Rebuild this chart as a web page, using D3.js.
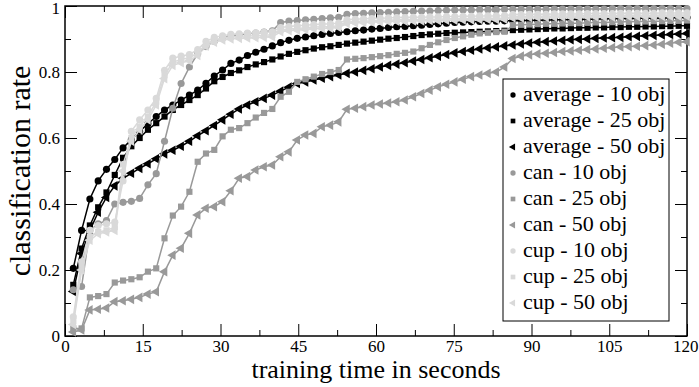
<!DOCTYPE html>
<html>
<head>
<meta charset="utf-8">
<script src="https://cdn.jsdelivr.net/npm/d3@7"></script>
<style>
  body { margin: 0; background: #fff; }
  svg { display: block; font-family: "Liberation Serif", "Times New Roman", serif; }
</style>
</head>
<body>
<div id="chart"></div>
<script>
// sample times (seconds)
const times = [1.6, 3.2, 4.8, 6.4, 8.0, 9.6, 11.2, 12.8, 14.4, 16.0,
  17.6, 19.2, 20.8, 22.4, 24.0, 25.6, 27.2, 28.8, 30.4, 32.0,
  33.6, 35.2, 36.8, 38.4, 40.0, 41.6, 43.2, 44.8, 46.4, 48.0,
  49.6, 51.2, 52.8, 54.4, 56.0, 57.6, 59.2, 60.8, 62.4, 64.0,
  65.6, 67.2, 68.8, 70.4, 72.0, 73.6, 75.2, 76.8, 78.4, 80.0,
  81.6, 83.2, 84.8, 86.4, 88.0, 89.6, 91.2, 92.8, 94.4, 96.0,
  97.6, 99.2, 100.8, 102.4, 104.0, 105.6, 107.2, 108.8, 110.4, 112.0,
  113.6, 115.2, 116.8, 118.4, 120.0];

const avg10 = [0.205, 0.32, 0.415, 0.47, 0.505, 0.535, 0.57, 0.595, 0.62, 0.643,
  0.665, 0.685, 0.70, 0.715, 0.73, 0.745, 0.766, 0.788, 0.806, 0.826,
  0.836, 0.85, 0.86, 0.869, 0.879, 0.889, 0.896, 0.902, 0.906, 0.91,
  0.914, 0.917, 0.92, 0.922, 0.925, 0.927, 0.93, 0.932, 0.935, 0.937,
  0.938, 0.94, 0.942, 0.944, 0.946, 0.948, 0.95, 0.951, 0.952, 0.953,
  0.954, 0.954, 0.955, 0.955, 0.956, 0.956, 0.957, 0.957, 0.958, 0.958,
  0.959, 0.959, 0.96, 0.96, 0.961, 0.961, 0.962, 0.962, 0.963, 0.963,
  0.963, 0.964, 0.964, 0.965, 0.965];

const avg25 = [0.155, 0.265, 0.335, 0.39, 0.435, 0.488, 0.54, 0.575, 0.60, 0.625,
  0.645, 0.665, 0.685, 0.70, 0.715, 0.73, 0.75, 0.772, 0.785, 0.797,
  0.805, 0.815, 0.823, 0.83, 0.838, 0.847, 0.855, 0.861, 0.866, 0.871,
  0.875, 0.878, 0.882, 0.886, 0.889, 0.892, 0.895, 0.898, 0.901, 0.903,
  0.906, 0.909, 0.912, 0.914, 0.916, 0.918, 0.919, 0.92, 0.921, 0.922,
  0.923, 0.924, 0.925, 0.927, 0.928, 0.929, 0.93, 0.931, 0.932, 0.932,
  0.933, 0.934, 0.934, 0.935, 0.935, 0.936, 0.936, 0.937, 0.937, 0.938,
  0.938, 0.939, 0.939, 0.94, 0.94];

const avg50 = [0.135, 0.25, 0.32, 0.375, 0.42, 0.455, 0.478, 0.493, 0.508, 0.522,
  0.537, 0.552, 0.563, 0.575, 0.59, 0.607, 0.622, 0.638, 0.655, 0.672,
  0.688, 0.70, 0.71, 0.72, 0.73, 0.742, 0.754, 0.765, 0.77, 0.776,
  0.781, 0.786, 0.791, 0.796, 0.80, 0.805, 0.81, 0.815, 0.82, 0.824,
  0.828, 0.833, 0.838, 0.843, 0.848, 0.853, 0.858, 0.862, 0.866, 0.87,
  0.873, 0.876, 0.879, 0.882, 0.885, 0.888, 0.89, 0.892, 0.894, 0.896,
  0.898, 0.899, 0.90, 0.902, 0.903, 0.904, 0.905, 0.907, 0.908, 0.91,
  0.911, 0.912, 0.914, 0.915, 0.917];

const can10 = [0.14, 0.15, 0.32, 0.34, 0.35, 0.40, 0.405, 0.408, 0.417, 0.458,
  0.492, 0.59, 0.69, 0.765, 0.815, 0.855, 0.877, 0.893, 0.903, 0.91,
  0.913, 0.916, 0.918, 0.921, 0.925, 0.95, 0.954, 0.956, 0.958, 0.96,
  0.962, 0.964, 0.966, 0.975, 0.977, 0.978, 0.979, 0.98, 0.981, 0.982,
  0.983, 0.984, 0.985, 0.985, 0.986, 0.987, 0.988, 0.988, 0.988, 0.989,
  0.989, 0.989, 0.99, 0.99, 0.99, 0.99, 0.99, 0.99, 0.991, 0.991,
  0.991, 0.991, 0.991, 0.991, 0.991, 0.992, 0.992, 0.992, 0.992, 0.992,
  0.992, 0.992, 0.992, 0.992, 0.992];

const can25 = [0.023, 0.023, 0.117, 0.121, 0.127, 0.162, 0.168, 0.172, 0.178, 0.195,
  0.205, 0.296, 0.365, 0.392, 0.437, 0.528, 0.553, 0.564, 0.605, 0.625,
  0.63, 0.645, 0.662, 0.676, 0.688, 0.725, 0.74, 0.77, 0.778, 0.786,
  0.794, 0.80, 0.806, 0.838, 0.84, 0.842, 0.845, 0.848, 0.851, 0.855,
  0.858, 0.862, 0.872, 0.882, 0.89, 0.897, 0.903, 0.908, 0.913, 0.917,
  0.919, 0.921, 0.922, 0.942, 0.943, 0.944, 0.945, 0.946, 0.946, 0.947,
  0.948, 0.948, 0.949, 0.95, 0.95, 0.951, 0.952, 0.952, 0.953, 0.953,
  0.954, 0.954, 0.955, 0.955, 0.956];

const can50 = [0.012, 0.018, 0.079, 0.081, 0.085, 0.104, 0.107, 0.111, 0.117, 0.127,
  0.134, 0.195, 0.245, 0.266, 0.311, 0.367, 0.387, 0.392, 0.407, 0.44,
  0.478, 0.483, 0.503, 0.513, 0.518, 0.543, 0.558, 0.594, 0.609, 0.614,
  0.634, 0.639, 0.649, 0.687, 0.69, 0.695, 0.70, 0.703, 0.706, 0.71,
  0.715, 0.725, 0.735, 0.745, 0.755, 0.763, 0.77, 0.778, 0.786, 0.791,
  0.796, 0.80, 0.815, 0.841, 0.848, 0.852, 0.855, 0.857, 0.859, 0.862,
  0.864, 0.866, 0.868, 0.87, 0.872, 0.874, 0.876, 0.877, 0.878, 0.88,
  0.882, 0.884, 0.887, 0.89, 0.892];

const cup10 = [0.058, 0.225, 0.32, 0.335, 0.34, 0.345, 0.47, 0.62, 0.655, 0.685,
  0.72, 0.805, 0.842, 0.848, 0.853, 0.868, 0.893, 0.905, 0.91, 0.914,
  0.916, 0.918, 0.919, 0.92, 0.922, 0.935, 0.938, 0.94, 0.942, 0.944,
  0.945, 0.946, 0.948, 0.958, 0.96, 0.961, 0.962, 0.963, 0.964, 0.965,
  0.965, 0.966, 0.966, 0.967, 0.967, 0.968, 0.968, 0.969, 0.969, 0.97,
  0.97, 0.97, 0.971, 0.974, 0.974, 0.975, 0.975, 0.975, 0.976, 0.976,
  0.976, 0.976, 0.977, 0.977, 0.977, 0.977, 0.978, 0.978, 0.978, 0.978,
  0.978, 0.979, 0.979, 0.979, 0.979];

const cup25 = [0.045, 0.21, 0.30, 0.315, 0.32, 0.33, 0.52, 0.60, 0.635, 0.665,
  0.71, 0.79, 0.83, 0.838, 0.843, 0.858, 0.885, 0.897, 0.903, 0.906,
  0.908, 0.909, 0.91, 0.911, 0.913, 0.927, 0.93, 0.932, 0.934, 0.936,
  0.937, 0.938, 0.94, 0.951, 0.953, 0.954, 0.955, 0.956, 0.957, 0.958,
  0.958, 0.959, 0.959, 0.96, 0.96, 0.961, 0.961, 0.962, 0.962, 0.963,
  0.963, 0.963, 0.964, 0.968, 0.968, 0.969, 0.969, 0.969, 0.97, 0.97,
  0.97, 0.97, 0.971, 0.971, 0.971, 0.971, 0.972, 0.972, 0.972, 0.972,
  0.972, 0.973, 0.973, 0.973, 0.973];

const cup50 = [0.035, 0.20, 0.29, 0.31, 0.315, 0.32, 0.50, 0.59, 0.625, 0.655,
  0.70, 0.78, 0.82, 0.828, 0.834, 0.85, 0.878, 0.89, 0.897, 0.90,
  0.902, 0.903, 0.904, 0.905, 0.907, 0.922, 0.925, 0.927, 0.929, 0.931,
  0.932, 0.933, 0.935, 0.947, 0.949, 0.95, 0.951, 0.952, 0.953, 0.954,
  0.954, 0.955, 0.955, 0.956, 0.956, 0.957, 0.957, 0.958, 0.958, 0.959,
  0.959, 0.959, 0.96, 0.964, 0.964, 0.965, 0.965, 0.965, 0.966, 0.966,
  0.966, 0.966, 0.967, 0.967, 0.967, 0.967, 0.968, 0.968, 0.968, 0.968,
  0.968, 0.969, 0.969, 0.969, 0.969];

const seriesNames = ['average - 10 obj', 'average - 25 obj', 'average - 50 obj',
  'can - 10 obj', 'can - 25 obj', 'can - 50 obj',
  'cup - 10 obj', 'cup - 25 obj', 'cup - 50 obj'];
const seriesValues = [avg10, avg25, avg50, can10, can25, can50, cup10, cup25, cup50];
const seriesColors = ['#000000', '#000000', '#000000', '#999999', '#999999', '#999999', '#d9d9d9', '#d9d9d9', '#d9d9d9'];
const seriesShapes = ['circle', 'square', 'triangle', 'circle', 'square', 'triangle', 'circle', 'square', 'triangle'];

const xTicks = [0, 15, 30, 45, 60, 75, 90, 105, 120];
const yTicks = [0, 0.2, 0.4, 0.6, 0.8, 1];

const width = 699, height = 387;
const margin = { L: 65, R: 12, T: 6, B: 51 };

const svg = d3.select('#chart').append('svg').attr('width', width).attr('height', height);

const x = d3.scaleLinear().domain([0, 120]).range([margin.L, width - margin.R]);
const y = d3.scaleLinear().domain([0, 1]).range([height - margin.B, margin.T]);

const minorX = d3.range(7.5, 120, 15);
const minorY = d3.range(0.1, 1, 0.2);

function styleAxis(g) {
  g.select('.domain').remove();
  g.selectAll('.tick line').attr('stroke', '#000').attr('stroke-width', 1);
  g.selectAll('text').attr('fill', '#000').style('font-size', '17px')
    .style('font-family', '"Liberation Serif", "Times New Roman", serif');
}

// bottom
const bottomAxis = svg.append('g').attr('transform', `translate(0,${y(0)})`)
  .call(d3.axisBottom(x).tickValues(xTicks).tickSize(-12).tickPadding(4).tickFormat(d3.format('d')))
  .call(styleAxis);
// last label would be clipped by the window edge: keep it inside
bottomAxis.selectAll('.tick text').filter(d => d === 120)
  .attr('text-anchor', 'end').attr('x', width - 1 - x(120));
svg.append('g').attr('transform', `translate(0,${y(0)})`)
  .call(d3.axisBottom(x).tickValues(minorX).tickSize(-6).tickFormat(''))
  .call(styleAxis);
// top
svg.append('g').attr('transform', `translate(0,${y(1)})`)
  .call(d3.axisTop(x).tickValues(xTicks).tickSize(-12).tickFormat(''))
  .call(styleAxis);
svg.append('g').attr('transform', `translate(0,${y(1)})`)
  .call(d3.axisTop(x).tickValues(minorX).tickSize(-6).tickFormat(''))
  .call(styleAxis);
// left
const leftAxis = svg.append('g').attr('transform', `translate(${x(0)},0)`)
  .call(d3.axisLeft(y).tickValues(yTicks).tickSize(-12).tickPadding(5).tickFormat(d3.format('')))
  .call(styleAxis);
leftAxis.selectAll('.tick text').filter(d => d === 1).attr('dy', '0.72em').attr('y', -5);
svg.append('g').attr('transform', `translate(${x(0)},0)`)
  .call(d3.axisLeft(y).tickValues(minorY).tickSize(-6).tickFormat(''))
  .call(styleAxis);
// right
svg.append('g').attr('transform', `translate(${x(120)},0)`)
  .call(d3.axisRight(y).tickValues(yTicks).tickSize(-12).tickFormat(''))
  .call(styleAxis);
svg.append('g').attr('transform', `translate(${x(120)},0)`)
  .call(d3.axisRight(y).tickValues(minorY).tickSize(-6).tickFormat(''))
  .call(styleAxis);

// frame
svg.append('rect')
  .attr('x', x(0)).attr('y', y(1))
  .attr('width', x(120) - x(0)).attr('height', y(0) - y(1))
  .attr('fill', 'none').attr('stroke', '#000').attr('stroke-width', 1.5);

const symbolFor = {
  circle: d3.symbol().type(d3.symbolCircle).size(40),
  square: d3.symbol().type(d3.symbolSquare).size(38),
  triangle: d3.symbol().type(d3.symbolTriangle).size(40)
};
const smallSymbolFor = {
  circle: d3.symbol().type(d3.symbolCircle).size(22),
  square: d3.symbol().type(d3.symbolSquare).size(22),
  triangle: d3.symbol().type(d3.symbolTriangle).size(22)
};

const line = d3.line().x((d, i) => x(times[i])).y(d => y(d));

seriesValues.forEach((vals, s) => {
  const g = svg.append('g');
  g.append('path').datum(vals)
    .attr('d', line)
    .attr('fill', 'none')
    .attr('stroke', seriesColors[s])
    .attr('stroke-width', 1.5);
  g.selectAll('path.mark').data(vals).enter().append('path')
    .attr('class', 'mark')
    .attr('d', symbolFor[seriesShapes[s]])
    .attr('transform', (d, i) => `translate(${x(times[i])},${y(d)})` + (seriesShapes[s] === 'triangle' ? ' rotate(-90)' : ''))
    .attr('fill', seriesColors[s]);
});

// legend
const lg = svg.append('g').attr('transform', 'translate(503,79)');
lg.append('rect').attr('width', 166).attr('height', 242)
  .attr('fill', '#fff').attr('stroke', '#000').attr('stroke-width', 1);
seriesNames.forEach((name, s) => {
  const yy = 16 + s * 26;
  lg.append('path')
    .attr('d', smallSymbolFor[seriesShapes[s]])
    .attr('transform', `translate(10,${yy})` + (seriesShapes[s] === 'triangle' ? ' rotate(-90)' : ''))
    .attr('fill', seriesColors[s]);
  lg.append('text').attr('x', 20).attr('y', yy + 6)
    .style('font-size', '22px').attr('fill', '#000').text(name);
});

// axis titles
svg.append('text')
  .attr('x', (x(0) + x(120)) / 2).attr('y', 378)
  .attr('text-anchor', 'middle').style('font-size', '26px')
  .text('training time in seconds');
svg.append('text')
  .attr('transform', `translate(30,${(y(0) + y(1)) / 2}) rotate(-90)`)
  .attr('text-anchor', 'middle').style('font-size', '30px')
  .text('classification rate');
</script>
</body>
</html>
